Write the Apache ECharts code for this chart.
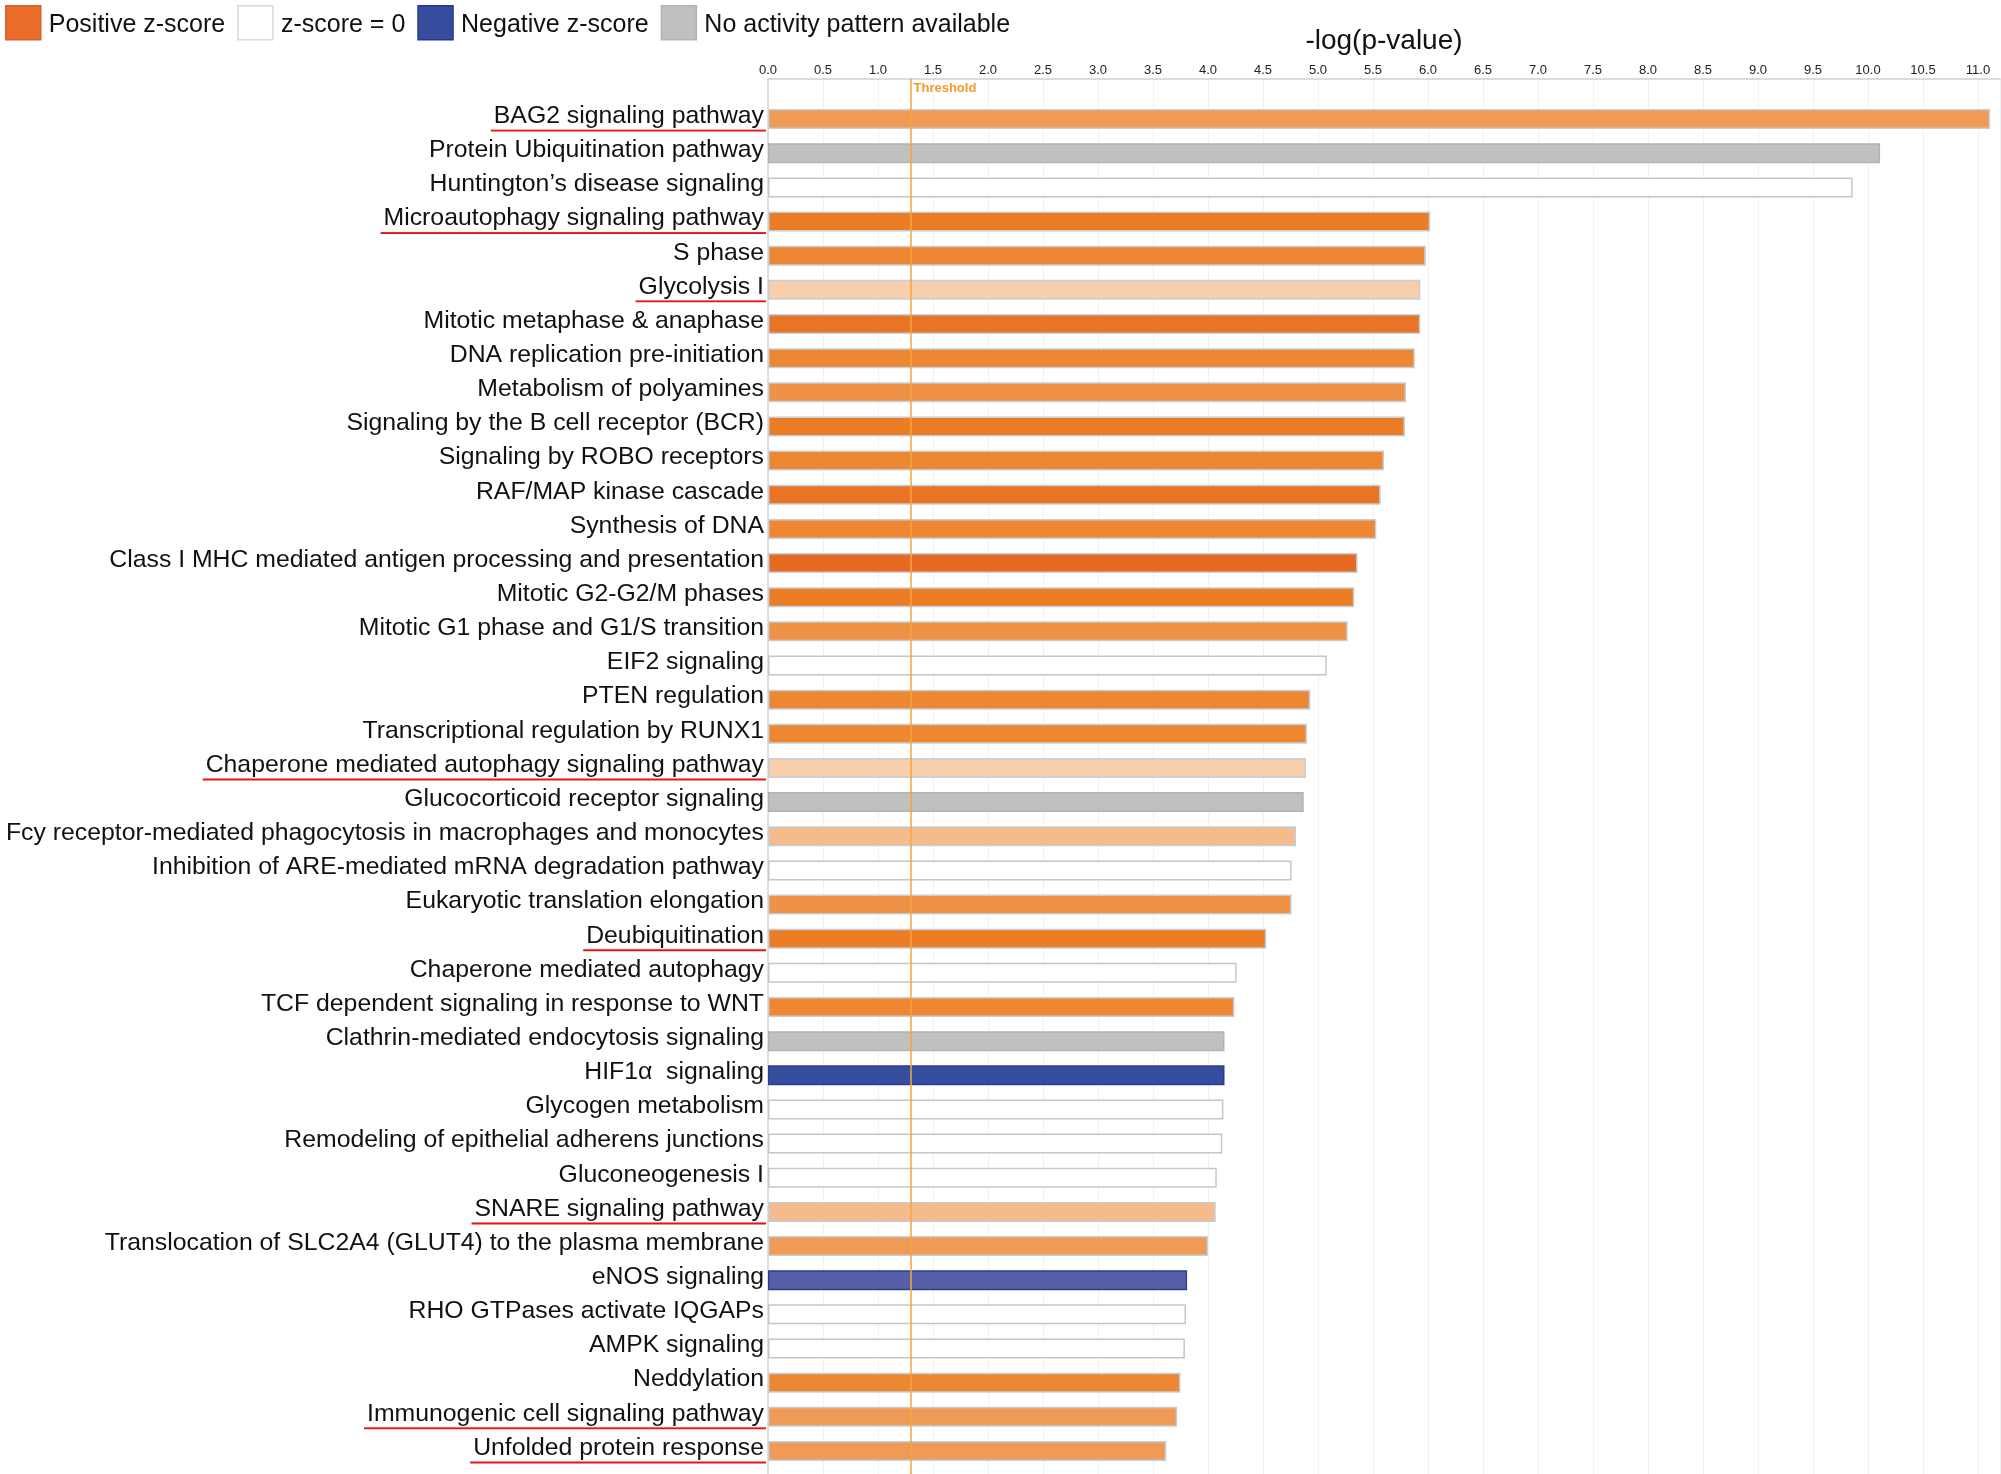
<!DOCTYPE html>
<html>
<head>
<meta charset="utf-8">
<title>-log(p-value) pathways</title>
<script src="https://cdn.jsdelivr.net/npm/echarts@6/dist/echarts.min.js"></script>
<style>
  html, body { margin: 0; padding: 0; background: #fff; }
  #chart { width: 2001px; height: 1474px; }
</style>
</head>
<body>
<div id="chart"></div>
<script>
const pathways = [
  "BAG2 signaling pathway",
  "Protein Ubiquitination pathway",
  "Huntington’s disease signaling",
  "Microautophagy signaling pathway",
  "S phase",
  "Glycolysis I",
  "Mitotic metaphase & anaphase",
  "DNA replication pre-initiation",
  "Metabolism of polyamines",
  "Signaling by the B cell receptor (BCR)",
  "Signaling by ROBO receptors",
  "RAF/MAP kinase cascade",
  "Synthesis of DNA",
  "Class I MHC mediated antigen processing and presentation",
  "Mitotic G2-G2/M phases",
  "Mitotic G1 phase and G1/S transition",
  "EIF2 signaling",
  "PTEN regulation",
  "Transcriptional regulation by RUNX1",
  "Chaperone mediated autophagy signaling pathway",
  "Glucocorticoid receptor signaling",
  "Fcy receptor-mediated phagocytosis in macrophages and monocytes",
  "Inhibition of ARE-mediated mRNA degradation pathway",
  "Eukaryotic translation elongation",
  "Deubiquitination",
  "Chaperone mediated autophagy",
  "TCF dependent signaling in response to WNT",
  "Clathrin-mediated endocytosis signaling",
  "HIF1α  signaling",
  "Glycogen metabolism",
  "Remodeling of epithelial adherens junctions",
  "Gluconeogenesis I",
  "SNARE signaling pathway",
  "Translocation of SLC2A4 (GLUT4) to the plasma membrane",
  "eNOS signaling",
  "RHO GTPases activate IQGAPs",
  "AMPK signaling",
  "Neddylation",
  "Immunogenic cell signaling pathway",
  "Unfolded protein response"
];

// -log(p-value)
const logP = [
  11.11, 10.11, 9.86, 6.02, 5.98, 5.93, 5.93, 5.88, 5.80, 5.79,
  5.60, 5.57, 5.53, 5.36, 5.33, 5.27, 5.08, 4.93, 4.90, 4.89,
  4.87, 4.80, 4.76, 4.76, 4.53, 4.26, 4.24, 4.15, 4.15, 4.14,
  4.13, 4.08, 4.07, 4.00, 3.81, 3.80, 3.79, 3.75, 3.72, 3.62
];

// pos = positive z-score, zero = z-score 0, neg = negative, na = no pattern
const activity = [
  "pos", "na", "zero", "pos", "pos", "pos", "pos", "pos", "pos", "pos",
  "pos", "pos", "pos", "pos", "pos", "pos", "zero", "pos", "pos", "pos",
  "na", "pos", "zero", "pos", "pos", "zero", "pos", "na", "neg", "zero",
  "zero", "zero", "pos", "pos", "neg", "zero", "zero", "pos", "pos", "pos"
];

// z-score strength (1 = weak, 8 = strong), 0 where no z-score shading
const strength = [
  3, 0, 0, 6, 5, 1, 7, 5, 4, 6,
  5, 7, 5, 8, 6, 4, 0, 5, 5, 1,
  0, 2, 0, 4, 6, 0, 5, 0, 2, 0,
  0, 0, 2, 3, 1, 0, 0, 5, 3, 3
];

const underlined = [
  "BAG2 signaling pathway",
  "Microautophagy signaling pathway",
  "Glycolysis I",
  "Chaperone mediated autophagy signaling pathway",
  "Deubiquitination",
  "SNARE signaling pathway",
  "Immunogenic cell signaling pathway",
  "Unfolded protein response"
];

const THRESHOLD = 1.3;
const AXIS_MAX = 11.2;
const TICK_STEP = 0.5;

const FONT = "'Liberation Sans', Arial, Helvetica, sans-serif";

const orangeShades = ["#f8cfac", "#f5bb8b", "#f09b55", "#ef9246", "#ee8731", "#ed7d24", "#ea7425", "#e66a22"];
const blueShades = ["#575fa9", "#354c9f"];

const groups = [
  { key: "pos", name: "Positive z-score", border: "#c3ced9", legend: "#eb6d2b", legendBorder: "#d9612a" },
  { key: "zero", name: "z-score = 0", border: "#c6c6c6", legend: "#ffffff", legendBorder: "#dadada" },
  { key: "neg", name: "Negative z-score", border: "#2b3f8f", legend: "#354c9f", legendBorder: "#27398c" },
  { key: "na", name: "No activity pattern available", border: "#b3b3b3", legend: "#c0c0c0", legendBorder: "#b3b3b3" }
];

function fillFor(i) {
  if (activity[i] === "pos") return orangeShades[strength[i] - 1];
  if (activity[i] === "neg") return blueShades[strength[i] - 1];
  if (activity[i] === "na") return "#c0c0c0";
  return "#ffffff";
}

// thin red rule at the bottom of a label token (token height 26 + 3)
function underlineImage() {
  const c = document.createElement("canvas");
  c.width = 4;
  c.height = 29;
  const ctx = c.getContext("2d");
  ctx.fillStyle = "#e8141a";
  ctx.fillRect(0, 27, 4, 2);
  return c;
}

const labelBox = { fontSize: 24.8, lineHeight: 26, padding: [0, 2, 3, 3], color: "#111", fontFamily: FONT };

const chart = echarts.init(document.getElementById("chart"));

chart.setOption({
  animation: false,
  backgroundColor: "#ffffff",
  textStyle: { fontFamily: FONT },
  legend: {
    left: 0,
    top: 0,
    itemWidth: 35,
    itemHeight: 34,
    itemGap: 12,
    selectedMode: false,
    formatter: (name) => `{t|${name}}`,
    textStyle: {
      rich: { t: { fontSize: 25, color: "#111", lineHeight: 26, padding: [5, 0, 0, 3] } }
    },
    data: groups.map((g) => ({
      name: g.name,
      icon: "rect",
      itemStyle: { color: g.legend, borderColor: g.legendBorder, borderWidth: 1.5 }
    }))
  },
  grid: [
    { left: 768, right: 1, top: 79, bottom: 0, outerBoundsMode: "none" },
    { left: 768, right: 1, top: 102, bottom: 6, outerBoundsMode: "none" }
  ],
  xAxis: [
    {
      type: "value",
      gridIndex: 0,
      position: "top",
      min: 0,
      max: AXIS_MAX,
      interval: TICK_STEP,
      name: "-log(p-value)",
      nameLocation: "middle",
      nameGap: 24,
      nameTextStyle: { fontSize: 28, color: "#111" },
      axisLine: { onZero: false, lineStyle: { color: "#cfcfcf", width: 1.5 } },
      axisTick: { show: false },
      axisLabel: {
        fontSize: 13,
        color: "#222",
        margin: 2,
        showMaxLabel: false,
        formatter: (v) => v.toFixed(1)
      },
      splitLine: { lineStyle: { color: "#f1f1f1" } }
    },
    {
      type: "value",
      gridIndex: 1,
      min: 0,
      max: AXIS_MAX,
      show: false
    }
  ],
  yAxis: [
    {
      type: "value",
      gridIndex: 0,
      min: 0,
      max: 1,
      axisLine: { show: true, onZero: false, lineStyle: { color: "#d6d6d6", width: 1.5 } },
      axisTick: { show: false },
      axisLabel: { show: false },
      splitLine: { show: false }
    },
    {
      type: "category",
      gridIndex: 1,
      inverse: true,
      data: pathways,
      axisLine: { show: false },
      axisTick: { show: false },
      axisLabel: {
        interval: 0,
        margin: 2,
        padding: [0, 0, 3, 0],
        formatter: (v) => (underlined.includes(v) ? `{u|${v}}` : `{p|${v}}`),
        rich: {
          p: labelBox,
          u: Object.assign({}, labelBox, { backgroundColor: { image: underlineImage() } })
        }
      }
    }
  ],
  series: groups.map((g) => ({
    type: "bar",
    name: g.name,
    xAxisIndex: 1,
    yAxisIndex: 1,
    barWidth: 20,
    barGap: "-100%",
    itemStyle: { borderColor: g.border, borderWidth: 1.5 },
    data: logP.map((v, i) => (activity[i] === g.key ? { value: v, itemStyle: { color: fillFor(i) } } : "-"))
  })).concat([
    {
      type: "line",
      name: "Threshold",
      xAxisIndex: 0,
      yAxisIndex: 0,
      z: 10,
      silent: true,
      symbol: "rect",
      symbolSize: 1,
      itemStyle: { color: "#f5a540" },
      lineStyle: { color: "#f5a540", width: 1.5 },
      data: [
        [THRESHOLD, 0],
        {
          value: [THRESHOLD, 1],
          label: {
            show: true,
            position: [3, 3],
            formatter: "Threshold",
            fontSize: 13,
            fontWeight: "bold",
            color: "#f39a2a"
          }
        }
      ]
    }
  ])
});

window.addEventListener("resize", () => chart.resize());
</script>
</body>
</html>
